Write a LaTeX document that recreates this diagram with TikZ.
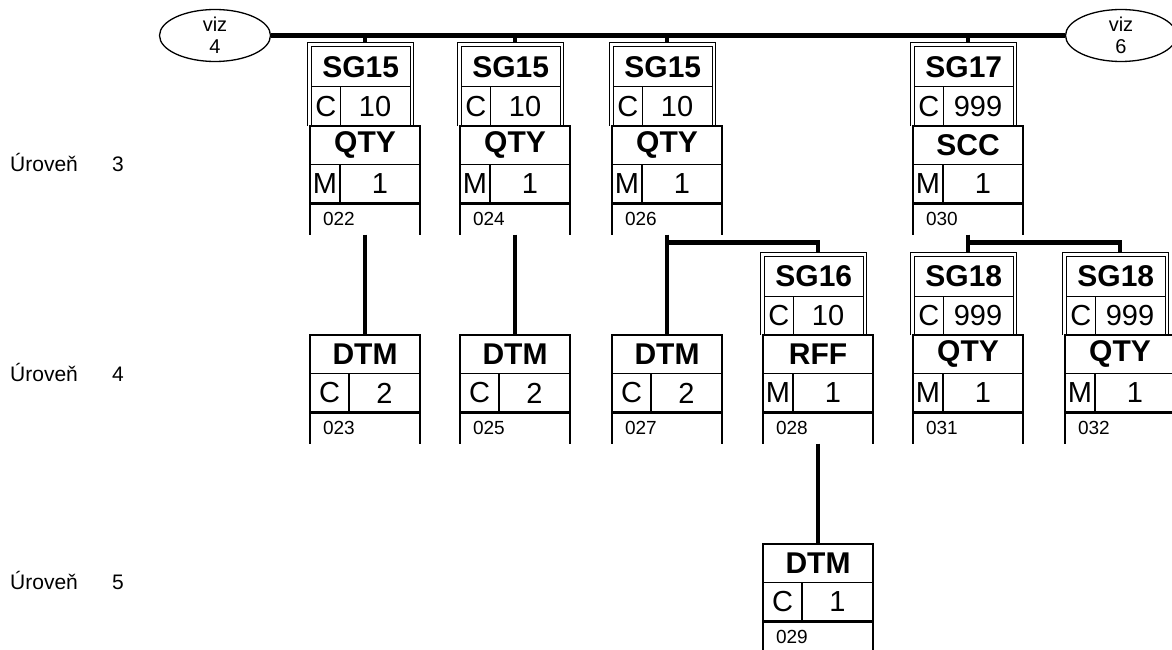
\documentclass[tikz,border=0pt]{standalone}
\usepackage{fontspec}
\setmainfont{Liberation Sans}
\usepackage{tikz}
\usetikzlibrary{positioning,shapes.geometric}
\tikzset{
  boxline/.style ={line width=1.3pt},
  segtag/.style  ={draw, boxline, anchor=north west, outer sep=0pt, inner sep=0pt,
                   minimum width=110pt, minimum height=38.5pt, font=\fontsize{30}{31}\selectfont\bfseries},
  segcell/.style ={draw, boxline, anchor=north west, outer sep=0pt, inner sep=0pt,
                   minimum width=#1, minimum height=39pt, font=\fontsize{29}{30}\selectfont},
  segcell/.default=30pt,
  segnum/.style  ={anchor=north west, outer sep=0pt, inner xsep=13pt, inner ysep=0pt, text width=84pt,
                   minimum height=31pt, align=left, font=\fontsize{19}{20}\selectfont},
  grpframe/.style={anchor=north west, outer sep=0pt, inner sep=0pt, minimum width=106pt, minimum height=83pt},
  grptag/.style  ={draw, line width=1pt, anchor=north west, outer sep=0pt, inner sep=0pt,
                   minimum width=98.5pt, minimum height=40pt, font=\fontsize{30}{31}\selectfont\bfseries},
  grpcell/.style ={draw, line width=1pt, anchor=north west, outer sep=0pt, inner sep=0pt,
                   minimum width=#1, minimum height=39pt, font=\fontsize{29}{30}\selectfont},
  oval/.style    ={ellipse, draw, boxline, minimum width=111pt, minimum height=52pt, inner sep=0pt,
                   align=center, font=\fontsize{20}{22}\selectfont},
  level/.style   ={anchor=west, inner sep=0pt, font=\fontsize{21}{22}\selectfont},
  busline/.style ={line width=5pt},
  treeline/.style={line width=4.5pt},
}
\newcommand{\segbox}[8][30pt]{%
  \node[segtag] (#2) at (#3,#4) {#5};
  \node[segcell=#1] (#2s) at (#2.south west) {#6};
  \node[segcell=110pt-#1] (#2c) at (#2s.north east) {#7};
  \node[segnum] (#2n) at (#2s.south west) {#8};
  \draw[boxline] (#2n.north west) -- (#2n.south west) (#2n.north east) -- (#2n.south east);
  \draw[line width=3pt] (#2s.south west) -- (#2c.south east);
}
\newcommand{\grpbox}[5]{%
  \node[grpframe] (#1) at ([xshift=-2.5pt,yshift=83pt]#2.north west) {};
  \draw[line width=1pt] (#1.south west) -- (#1.north west) -- (#1.north east) -- (#1.south east);
  \node[grptag] (#1t) at ([xshift=1.5pt,yshift=79pt]#2.north west) {#3};
  \node[grpcell=28.5pt] (#1s) at (#1t.south west) {#4};
  \node[grpcell=70pt] (#1c) at (#1s.north east) {#5};
}

\begin{document}
\begin{tikzpicture}[x=1pt,y=-1pt]
\useasboundingbox (0,0) rectangle (1172,650);

\node[level] (lv3) at (10,162) {\makebox[102pt][l]{Úroveň}3};
\node[level] (lv4) at (10,372) {\makebox[102pt][l]{Úroveň}4};
\node[level] (lv5) at (10,580) {\makebox[102pt][l]{Úroveň}5};

\node[oval] (viz4) at (215,35.5) {viz\\4};
\node[oval] (viz6) at (1121,35.5) {viz\\6};

\segbox{qa}{310}{126}{QTY}{M}{1}{022}
\segbox{qb}{460}{126}{QTY}{M}{1}{024}
\segbox{qc}{612}{126}{QTY}{M}{1}{026}
\segbox{sc}{913}{126}{SCC}{M}{1}{030}
\grpbox{ga}{qa}{SG15}{C}{10}
\grpbox{gb}{qb}{SG15}{C}{10}
\grpbox{gc}{qc}{SG15}{C}{10}
\grpbox{gs}{sc}{SG17}{C}{999}

\segbox[39pt]{da}{310}{335}{DTM}{C}{2}{023}
\segbox[39pt]{db}{460}{335}{DTM}{C}{2}{025}
\segbox[39pt]{dc}{612}{335}{DTM}{C}{2}{027}
\segbox{rf}{763}{335}{RFF}{M}{1}{028}
\segbox{qd}{913}{335}{QTY}{M}{1}{031}
\segbox{qe}{1065}{335}{QTY}{M}{1}{032}
\grpbox{g16}{rf}{SG16}{C}{10}
\grpbox{g18a}{qd}{SG18}{C}{999}
\grpbox{g18b}{qe}{SG18}{C}{999}

\segbox[39pt]{dd}{763}{544}{DTM}{C}{1}{029}

\draw[busline] (viz4.east) -- (viz6.west);
\draw[treeline] (qa.north |- viz4.east) -- (qa.north |- ga.north);
\draw[treeline] (qb.north |- viz4.east) -- (qb.north |- gb.north);
\draw[treeline] (qc.north |- viz4.east) -- (qc.north |- gc.north);
\draw[treeline] (sc.north |- viz4.east) -- (sc.north |- gs.north);

\draw[treeline] (qan.south) -- (da.north);
\draw[treeline] (qbn.south) -- (db.north);
\draw[treeline] (qcn.south) -- (dc.north);
\coordinate[below=8pt of qcn.south] (kc);
\draw[treeline] (kc) -| (rf.north |- g16.north);
\draw[treeline] (scn.south) -- (qd.north |- g18a.north);
\coordinate[below=8pt of scn.south] (ks);
\draw[treeline] (ks) -| (qe.north |- g18b.north);
\draw[treeline] (rfn.south) -- (dd.north);
\end{tikzpicture}
\end{document}
